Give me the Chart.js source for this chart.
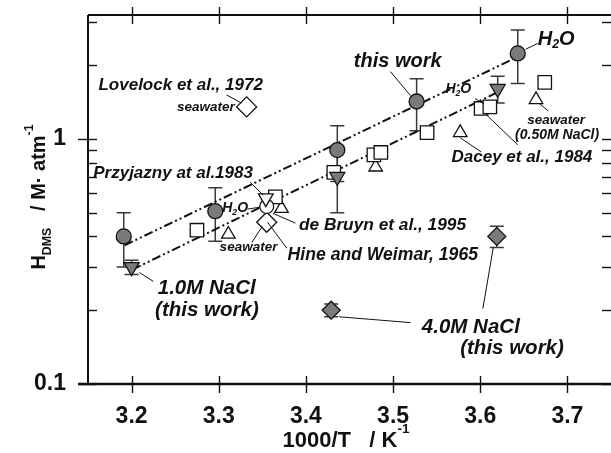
<!DOCTYPE html>
<html>
<head>
<meta charset="utf-8">
<script src="https://cdn.jsdelivr.net/npm/chart.js@4/dist/chart.umd.min.js"></script>
<style>
  html, body { margin: 0; padding: 0; background: #fff; }
  #wrap { width: 611px; height: 453px; }
</style>
</head>
<body>
<div id="wrap"><canvas id="hdms" width="611" height="453"></canvas></div>
<script>
// axis ticks
const xTicks = [3.2, 3.3, 3.4, 3.5, 3.6, 3.7];
const yTicks = [0.1, 0.2, 0.3, 0.4, 0.5, 0.6, 0.7, 0.8, 0.9, 1, 2, 3];
const yLabels = [0.1, 1];

// this work, pure water (filled circles)
const h2oX = [3.191, 3.296, 3.436, 3.527, 3.643];
const h2oY = [0.40, 0.507, 0.90, 1.42, 2.23];
const h2oErr = [0.10, 0.125, 0.23, 0.34, 0.55];

// this work, 1.0M NaCl (filled down triangles)
const nacl1X = [3.200, 3.436, 3.620];
const nacl1Y = [0.30, 0.70, 1.60];
const nacl1Err = [0.02, 0.20, 0.20];

// this work, 4.0M NaCl (filled diamonds)
const nacl4X = [3.429, 3.619];
const nacl4Y = [0.20, 0.40];
const nacl4Err = [0.012, 0.04];

// literature values (open symbols)
const sqX = [3.275, 3.365, 3.432, 3.478, 3.486, 3.539, 3.601, 3.611, 3.674];
const sqY = [0.424, 0.58, 0.73, 0.86, 0.88, 1.06, 1.33, 1.35, 1.70];
const triX = [3.311, 3.372, 3.480, 3.577, 3.664];
const triY = [0.408, 0.52, 0.767, 1.06, 1.445];
const dmX = [3.332, 3.355];
const dmY = [1.35, 0.457];
const ocX = [3.355];
const ocY = [0.53];
const dtX = [3.354];
const dtY = [0.573];

// regression lines
const fitAX = [3.192, 3.643];
const fitAY = [0.368, 2.16];
const fitBX = [3.201, 3.620];
const fitBY = [0.293, 1.55];

const FONT = '"Liberation Sans", Arial, Helvetica, sans-serif';
const GRAY = '#7a7a7a';

const pts = (xs, ys) => xs.map((v, i) => ({ x: v, y: ys[i] }));

// text labels in data coordinates: [parts, x, y, size]
const notes = [
  [[['Lovelock et al., 1972']], 3.162, 1.66, 17],
  [[['seawater']], 3.252, 1.35, 13.5],
  [[['this work']], 3.455, 2.07, 20],
  [[['H'], ['2', 'sub'], ['O']], 3.666, 2.55, 20],
  [[['H'], ['2', 'sub'], ['O']], 3.560, 1.59, 14],
  [[['seawater']], 3.654, 1.196, 13.5],
  [[['(0.50M NaCl)']], 3.640, 1.038, 14],
  [[['Dacey et al., 1984']], 3.567, 0.844, 17],
  [[['Przyjazny at al.1983']], 3.156, 0.726, 17],
  [[['H'], ['2', 'sub'], ['O']], 3.304, 0.521, 14],
  [[['de Bruyn et al., 1995']], 3.392, 0.444, 17.3],
  [[['Hine and Weimar, 1965']], 3.379, 0.335, 17.6],
  [[['seawater']], 3.301, 0.361, 13.5],
  [[['1.0M NaCl']], 3.230, 0.245, 20.5],
  [[['(this work)']], 3.227, 0.199, 20.5],
  [[['4.0M NaCl']], 3.533, 0.170, 20.5],
  [[['(this work)']], 3.577, 0.140, 20.5],
];

const leaders = [
  [3.309, 1.51, 3.326, 1.40],
  [3.497, 1.88, 3.520, 1.50],
  [3.652, 2.32, 3.666, 2.45],
  [3.594, 1.46, 3.604, 1.39],
  [3.668, 1.39, 3.678, 1.30],
  [3.577, 1.01, 3.601, 0.885],
  [3.607, 1.254, 3.643, 0.945],
  [3.336, 0.666, 3.351, 0.589],
  [3.333, 0.517, 3.347, 0.526],
  [3.362, 0.497, 3.388, 0.453],
  [3.356, 0.457, 3.378, 0.358],
  [3.338, 0.378, 3.350, 0.44],
  [3.225, 0.262, 3.209, 0.285],
  [3.520, 0.178, 3.438, 0.188],
  [3.603, 0.203, 3.615, 0.361],
];

// draws text made of normal / sub / sup pieces, returns width
function richText(ctx, parts, x, y, size, style, measureOnly) {
  let cx = x;
  parts.forEach(([t, kind]) => {
    const s = kind ? size * 0.62 : size;
    ctx.font = `${style} ${s}px ${FONT}`;
    const dy = kind === 'sub' ? size * 0.28 : kind === 'sup' ? -size * 0.62 : 0;
    if (!measureOnly) ctx.fillText(t, cx, y + dy);
    cx += ctx.measureText(t).width;
  });
  return cx - x;
}

const errorBars = {
  id: 'errorBars',
  beforeDatasetsDraw(chart) {
    const { ctx, scales: { x, y } } = chart;
    const sets = [[h2oX, h2oY, h2oErr], [nacl1X, nacl1Y, nacl1Err], [nacl4X, nacl4Y, nacl4Err]];
    ctx.save();
    ctx.strokeStyle = '#3a3a3a';
    ctx.lineWidth = 1.5;
    sets.forEach(([xs, ys, es]) => {
      xs.forEach((v, i) => {
        const px = x.getPixelForValue(v);
        const top = y.getPixelForValue(ys[i] + es[i]);
        const bot = y.getPixelForValue(ys[i] - es[i]);
        ctx.beginPath();
        ctx.moveTo(px, top); ctx.lineTo(px, bot);
        ctx.moveTo(px - 7, top); ctx.lineTo(px + 7, top);
        ctx.moveTo(px - 7, bot); ctx.lineTo(px + 7, bot);
        ctx.stroke();
      });
    });
    ctx.restore();
  },
};

const frame = {
  id: 'frame',
  afterDatasetsDraw(chart) {
    const { ctx, chartArea: a, scales: { x, y } } = chart;
    const line = (x1, y1, x2, y2) => { ctx.beginPath(); ctx.moveTo(x1, y1); ctx.lineTo(x2, y2); ctx.stroke(); };
    ctx.save();
    ctx.strokeStyle = '#111';
    ctx.lineWidth = 2;
    line(a.left, a.top, a.right, a.top);
    line(a.left, a.top, a.left, a.bottom);
    ctx.lineWidth = 2.6;
    line(a.left - 10, a.bottom, a.right, a.bottom);
    ctx.lineWidth = 1.4;
    xTicks.forEach(v => {
      const px = Math.round(x.getPixelForValue(v)) + 0.5;
      line(px, a.top - 8, px, a.top + 9);
      line(px, a.bottom - 8, px, a.bottom + 9);
    });
    yTicks.forEach(v => {
      const py = Math.round(y.getPixelForValue(v)) + 0.5;
      const major = yLabels.includes(v);
      line(major ? a.left - 10 : a.left, py, a.left + 9, py);
      line(a.right - 9, py, a.right, py);
    });
    ctx.restore();
  },
  afterDraw(chart) {
    const { ctx, scales: { x, y } } = chart;
    ctx.save();
    ctx.fillStyle = '#111';
    ctx.strokeStyle = '#111';
    ctx.lineWidth = 1;
    leaders.forEach(([x1, y1, x2, y2]) => {
      ctx.beginPath();
      ctx.moveTo(x.getPixelForValue(x1), y.getPixelForValue(y1));
      ctx.lineTo(x.getPixelForValue(x2), y.getPixelForValue(y2));
      ctx.stroke();
    });
    ctx.textBaseline = 'middle';
    ctx.textAlign = 'left';
    notes.forEach(([parts, vx, vy, size]) => {
      richText(ctx, parts, x.getPixelForValue(vx), y.getPixelForValue(vy), size, 'italic bold');
    });

    // axis titles
    ctx.textBaseline = 'alphabetic';
    const xt = [['1000/T'], ['   / K'], ['-1', 'sup']];
    const xw = richText(ctx, xt, 0, 0, 22, 'bold', true);
    richText(ctx, xt, 346 - xw / 2, 447, 22, 'bold');

    const yt = [['H'], ['DMS', 'sub'], ['   / M· atm'], ['-1', 'sup']];
    const yw = richText(ctx, yt, 0, 0, 20, 'bold', true);
    ctx.translate(45, 197);
    ctx.rotate(-Math.PI / 2);
    richText(ctx, yt, -yw / 2, 0, 20, 'bold');
    ctx.restore();
  },
};

const marker = (label, data, style, radius, fill, extra) => Object.assign({
  label, data, pointStyle: style, pointRadius: radius, pointHoverRadius: radius,
  pointBackgroundColor: fill, pointBorderColor: '#111', pointBorderWidth: 1.3, showLine: false,
}, extra || {});

const fitLine = (label, data) => ({
  label, data, type: 'line', showLine: true, pointRadius: 0, borderColor: '#111',
  borderWidth: 2, borderDash: [9, 3, 2, 3, 2, 3], fill: false, tension: 0,
});

const noEdgePadding = s => { s.paddingLeft = 0; s.paddingRight = 0; s.paddingTop = 0; s.paddingBottom = 0; };

new Chart(document.getElementById('hdms'), {
  type: 'scatter',
  data: {
    datasets: [
      marker('this work H2O', pts(h2oX, h2oY), 'circle', 7.5, GRAY),
      marker('1.0M NaCl', pts(nacl1X, nacl1Y), 'triangle', 8.7, GRAY, { pointRotation: 180 }),
      marker('4.0M NaCl', pts(nacl4X, nacl4Y), 'rectRot', 9, GRAY),
      marker('open triangle down', pts(dtX, dtY), 'triangle', 8.5, '#fff', { pointRotation: 180 }),
      marker('open circle', pts(ocX, ocY), 'circle', 7, '#fff'),
      marker('open diamond', pts(dmX, dmY), 'rectRot', 10, '#fff'),
      marker('open square', pts(sqX, sqY), 'rect', 9.5, '#fff'),
      marker('open triangle', pts(triX, triY), 'triangle', 7.8, '#fff'),
      fitLine('fit H2O', pts(fitAX, fitAY)),
      fitLine('fit 1.0M NaCl', pts(fitBX, fitBY)),
    ],
  },
  options: {
    responsive: false,
    animation: false,
    devicePixelRatio: 1,
    layout: { autoPadding: false, padding: { top: 15, right: 0, left: 0, bottom: 0 } },
    plugins: { legend: { display: false }, tooltip: { enabled: false } },
    scales: {
      x: {
        type: 'linear',
        min: 3.15,
        max: 3.75,
        grid: { display: false, drawTicks: false },
        border: { display: false },
        afterBuildTicks: s => { s.ticks = xTicks.map(v => ({ value: v })); },
        afterFit: s => { s.height = 69; noEdgePadding(s); },
        ticks: {
          padding: 19,
          color: '#111',
          font: { family: FONT, size: 23, weight: 'bold' },
          callback: v => v.toFixed(1),
        },
      },
      y: {
        type: 'logarithmic',
        min: 0.1,
        max: 3.2,
        grid: { display: false, drawTicks: false },
        border: { display: false },
        afterBuildTicks: s => { s.ticks = yTicks.map(v => ({ value: v })); },
        afterFit: s => { s.width = 88; noEdgePadding(s); },
        ticks: {
          padding: 22,
          color: '#111',
          font: { family: FONT, size: 23, weight: 'bold' },
          callback: v => (yLabels.includes(v) ? String(v) : ''),
        },
      },
    },
  },
  plugins: [errorBars, frame],
});
</script>
</body>
</html>
